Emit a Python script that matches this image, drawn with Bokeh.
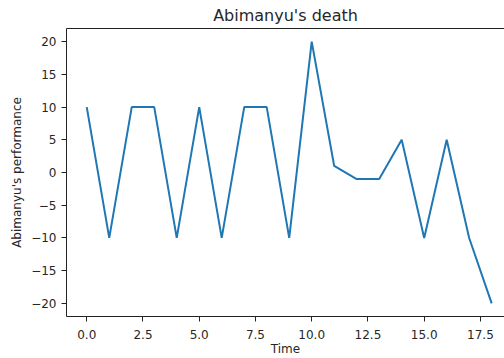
from bokeh.plotting import figure
from bokeh.models import FixedTicker, LinearAxis, Range1d
from bokeh.embed import file_html
from bokeh.resources import INLINE

time = list(range(19))
performance = [10, -10, 10, 10, -10, 10, -10, 10, 10, -10, 20, 1, -1, -1, 5, -10, 5, -10, -20]
x_ticks = [0, 2.5, 5, 7.5, 10, 12.5, 15, 17.5]
x_tick_labels = ["0.0", "2.5", "5.0", "7.5", "10.0", "12.5", "15.0", "17.5"]
y_ticks = [-20, -15, -10, -5, 0, 5, 10, 15, 20]

FONT = "DejaVu Sans"
TXT = "#262626"

p = figure(width=504, height=358, output_backend="svg", toolbar_location=None,
           x_range=Range1d(-0.9, 18.57), y_range=Range1d(-22, 22),
           min_border_left=66, min_border_right=0, min_border_top=0, min_border_bottom=0,
           title="Abimanyu's death")
p.outline_line_color = None
p.grid.visible = False
p.background_fill_color = "white"
p.border_fill_color = "white"

p.title.align = "center"
p.title.text_font = FONT
p.title.text_font_size = "16px"
p.title.text_font_style = "normal"
p.title.text_color = TXT
p.title.offset = 2
p.title.standoff = 7

p.line(time, performance, line_color="#1f77b4", line_width=2)

for ax in (p.xaxis[0], p.yaxis[0]):
    ax.major_label_text_font = FONT
    ax.major_label_text_font_size = "12px"
    ax.major_label_text_color = TXT
    ax.axis_label_text_font = FONT
    ax.axis_label_text_font_size = "12px"
    ax.axis_label_text_font_style = "normal"
    ax.axis_label_text_color = TXT
    ax.axis_line_color = "#222222"
    ax.major_tick_line_color = "#222222"
    ax.major_tick_out = 5
    ax.major_tick_in = 0
    ax.minor_tick_out = 0
    ax.minor_tick_in = 0

p.xaxis[0].ticker = FixedTicker(ticks=x_ticks)
p.xaxis[0].major_label_overrides = {t: l for t, l in zip(x_ticks, x_tick_labels)}
p.xaxis[0].axis_label = "Time"
p.xaxis[0].major_label_standoff = 8
p.xaxis[0].axis_label_standoff = 0
p.yaxis[0].ticker = FixedTicker(ticks=y_ticks)
p.yaxis[0].major_label_overrides = {t: ("\u2212" + str(-t) if t < 0 else str(t)) for t in y_ticks}
p.yaxis[0].axis_label = "Abimanyu's performance"
p.yaxis[0].major_label_standoff = 5
p.yaxis[0].axis_label_standoff = 4

top = LinearAxis(ticker=FixedTicker(ticks=[]), major_label_text_font_size="0px",
                 major_label_standoff=0, axis_label_standoff=0,
                 major_tick_out=0, major_tick_in=0, minor_tick_out=0, minor_tick_in=0,
                 axis_line_color="#222222", major_tick_line_color=None, minor_tick_line_color=None)
p.add_layout(top, "above")

open("out.html", "w").write(file_html(p, INLINE))
